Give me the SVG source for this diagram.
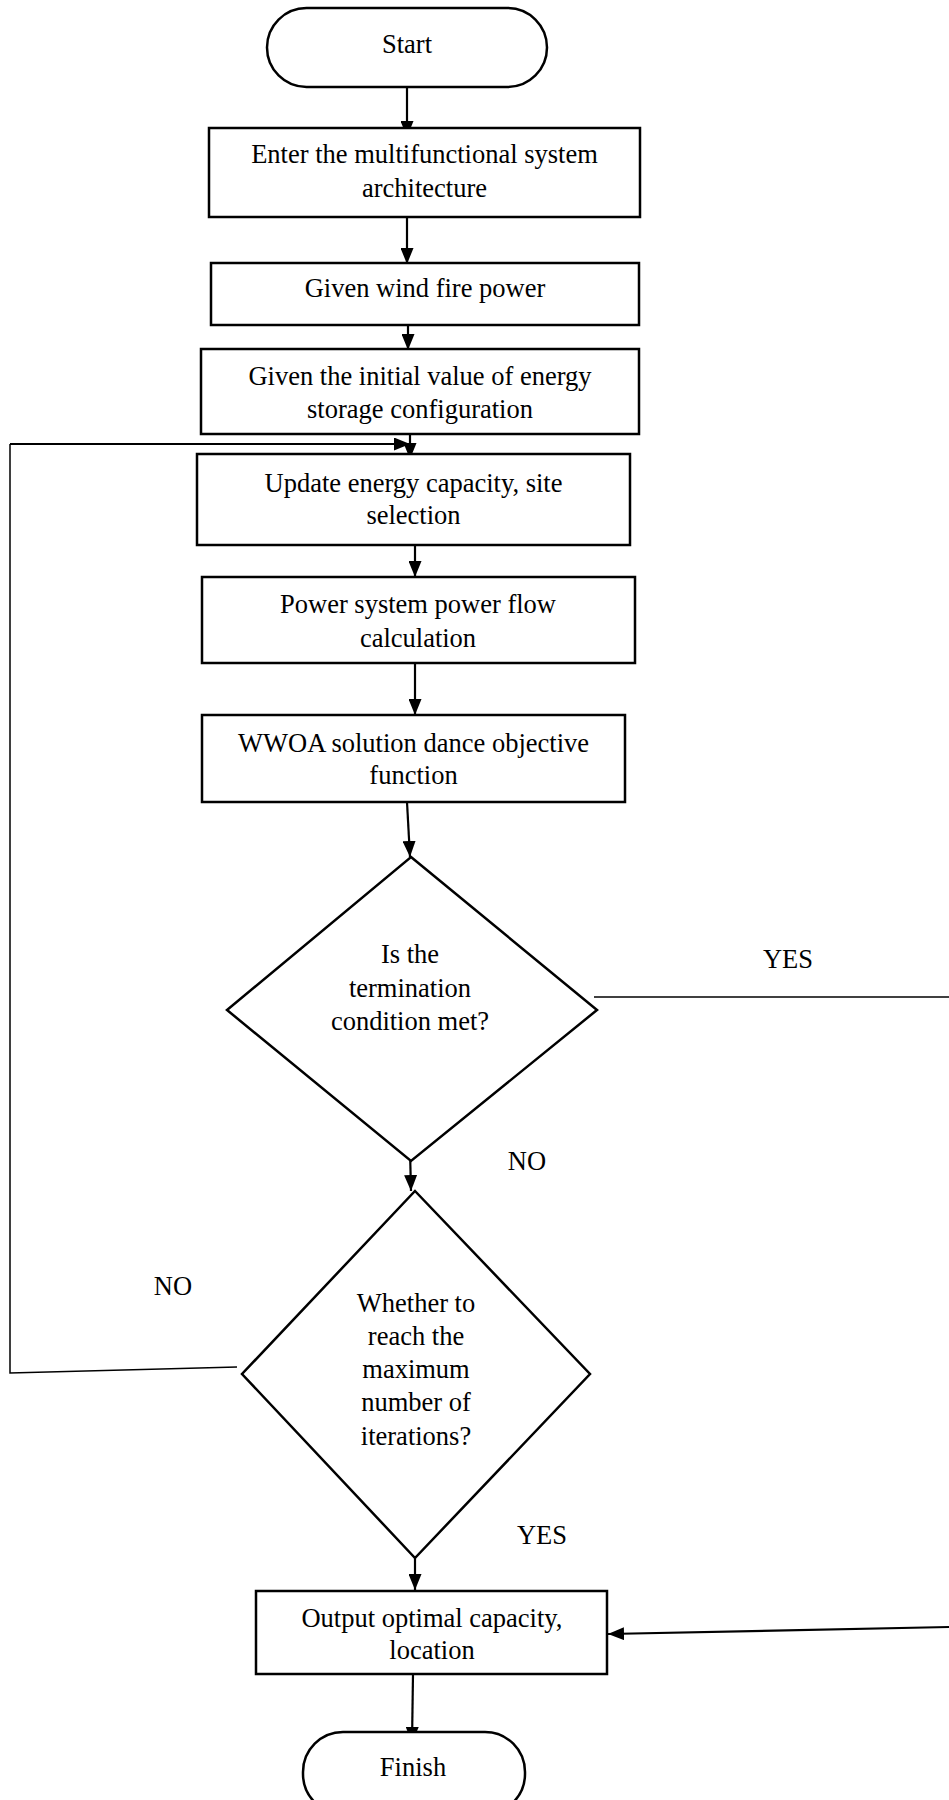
<svg xmlns="http://www.w3.org/2000/svg" width="949" height="1800" viewBox="0 0 949 1800">
<style>
.n{fill:#fff;stroke:#000;stroke-width:2.5}
.t{font-family:"Liberation Serif","Times New Roman",serif;font-size:26.5px;fill:#000;text-anchor:middle}
.c{fill:none;stroke:#000;stroke-width:2.2}
.thin{fill:none;stroke:#000;stroke-width:1.5}
</style>
<defs>
<marker id="ah" viewBox="0 0 16 13" refX="16" refY="6.5" markerWidth="16" markerHeight="13" markerUnits="userSpaceOnUse" orient="auto">
<path d="M0,0 L16,6.5 L0,13 Z" fill="#000"/>
</marker>
</defs>
<rect width="949" height="1800" fill="#fff"/>
<g id="connectors">
<line class="c" x1="407" y1="70" x2="407" y2="137" marker-end="url(#ah)"/>
<line class="c" x1="407" y1="218" x2="407" y2="264" marker-end="url(#ah)"/>
<line class="c" x1="408" y1="325" x2="408" y2="350" marker-end="url(#ah)"/>
<line class="c" x1="410" y1="434" x2="410" y2="459" marker-end="url(#ah)"/>
<line class="c" x1="415" y1="545" x2="415" y2="577" marker-end="url(#ah)"/>
<line class="c" x1="415" y1="663" x2="415" y2="715" marker-end="url(#ah)"/>
<line class="c" x1="407" y1="802" x2="410" y2="857" marker-end="url(#ah)"/>
<line class="c" x1="410" y1="1150" x2="411" y2="1191" marker-end="url(#ah)"/>
<line class="c" x1="415" y1="1546" x2="415" y2="1590" marker-end="url(#ah)"/>
<line class="c" x1="413" y1="1674" x2="412" y2="1743" marker-end="url(#ah)"/>
<line class="thin" x1="594" y1="997" x2="949" y2="997"/>
<line class="c" x1="949" y1="1627" x2="608" y2="1634" marker-end="url(#ah)"/>
<polyline class="thin" points="237,1367 10,1373 10,444"/>
<line class="c" x1="10" y1="444" x2="410" y2="444" marker-end="url(#ah)"/>
</g>
<g id="start">
<rect class="n" x="267" y="8" width="280" height="79" rx="39.5"/>
<text class="t" x="407" y="53">Start</text>
</g>
<g id="enter">
<rect class="n" x="209" y="128" width="431" height="89"/>
<text class="t" x="424.5" y="163">Enter the multifunctional system</text>
<text class="t" x="424.5" y="197">architecture</text>
</g>
<g id="wind">
<rect class="n" x="211" y="263" width="428" height="62"/>
<text class="t" x="425" y="297">Given wind fire power</text>
</g>
<g id="initial">
<rect class="n" x="201" y="349" width="438" height="85"/>
<text class="t" x="420" y="385">Given the initial value of energy</text>
<text class="t" x="420" y="418">storage configuration</text>
</g>
<g id="update">
<rect class="n" x="197" y="454" width="433" height="91"/>
<text class="t" x="413.5" y="492">Update energy capacity, site</text>
<text class="t" x="413.5" y="524">selection</text>
</g>
<g id="powerflow">
<rect class="n" x="202" y="577" width="433" height="86"/>
<text class="t" x="418" y="613">Power system power flow</text>
<text class="t" x="418" y="647">calculation</text>
</g>
<g id="wwoa">
<rect class="n" x="202" y="715" width="423" height="87"/>
<text class="t" x="413.5" y="752">WWOA solution dance objective</text>
<text class="t" x="413.5" y="784">function</text>
</g>
<g id="termination">
<polygon class="n" points="411,857 597,1010 411,1161 227,1010"/>
<text class="t" x="410" y="963">Is the</text>
<text class="t" x="410" y="997">termination</text>
<text class="t" x="410" y="1030">condition met?</text>
</g>
<g id="maxiter">
<polygon class="n" points="415,1191 590,1374 415,1558 242,1374"/>
<text class="t" x="416" y="1312">Whether to</text>
<text class="t" x="416" y="1345">reach the</text>
<text class="t" x="416" y="1378">maximum</text>
<text class="t" x="416" y="1411">number of</text>
<text class="t" x="416" y="1445">iterations?</text>
</g>
<g id="output">
<rect class="n" x="256" y="1591" width="351" height="83"/>
<text class="t" x="432" y="1627">Output optimal capacity,</text>
<text class="t" x="432" y="1659">location</text>
</g>
<g id="finish">
<rect class="n" x="303" y="1732" width="222" height="82" rx="40"/>
<text class="t" x="413" y="1776">Finish</text>
</g>
<g id="labels">
<text class="t" x="788" y="968">YES</text>
<text class="t" x="527" y="1170">NO</text>
<text class="t" x="173" y="1295">NO</text>
<text class="t" x="542" y="1544">YES</text>
</g>
</svg>
